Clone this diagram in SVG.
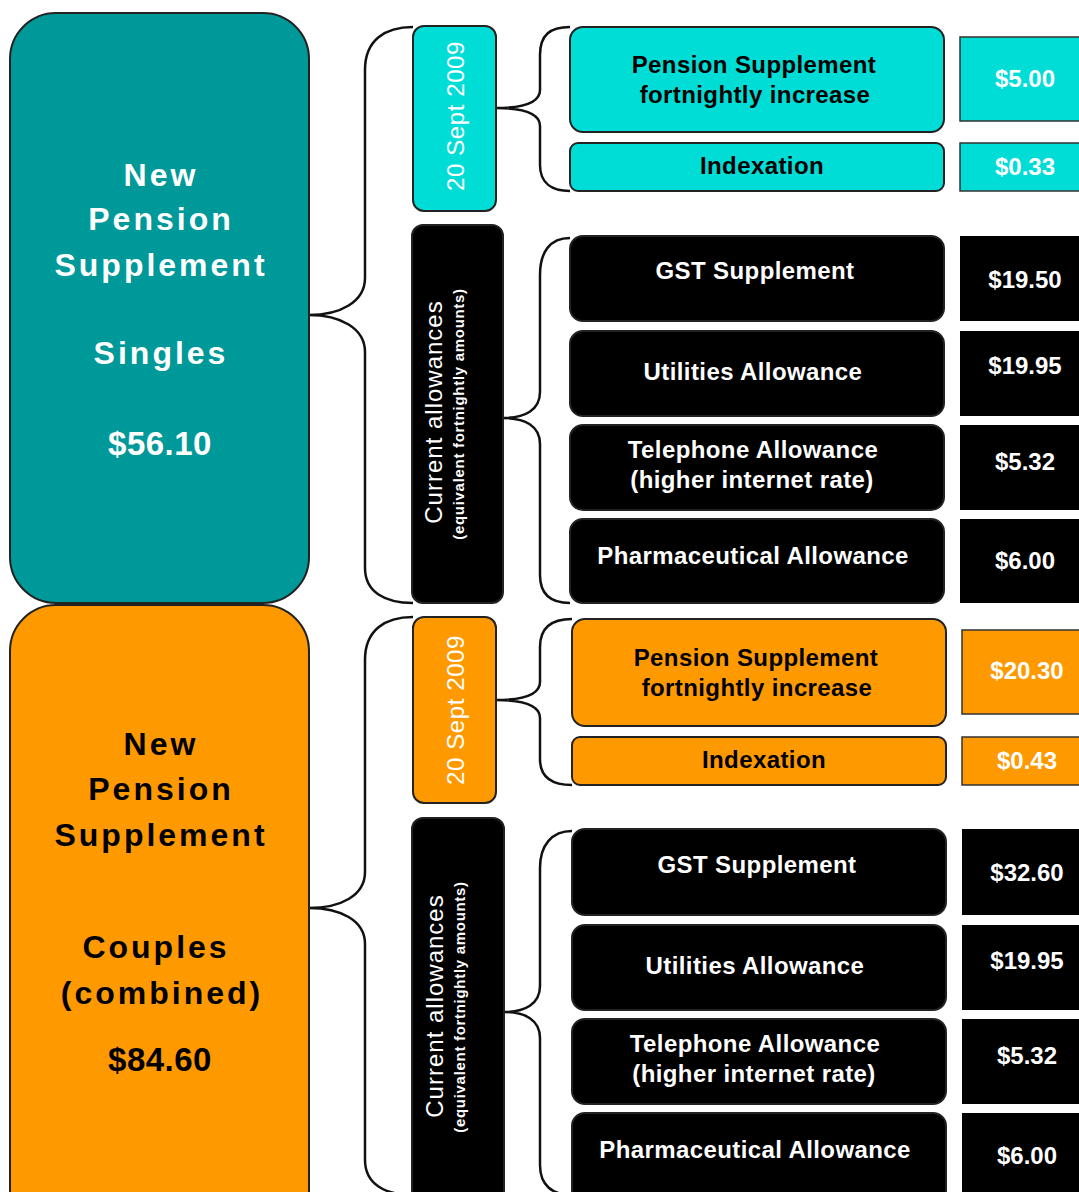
<svg xmlns="http://www.w3.org/2000/svg" width="1079" height="1192" viewBox="0 0 1079 1192">
<style>
text{font-family:"Liberation Sans",Arial,sans-serif;text-anchor:middle}
.big{font-size:32px;font-weight:bold;letter-spacing:3px}
.amt{font-size:33px;font-weight:bold;letter-spacing:0.5px}
.lbl{font-size:24px;font-weight:bold;letter-spacing:0.4px}
.val{font-size:24px;font-weight:bold}
.date{font-size:24px;fill:#fff;letter-spacing:0.6px}
.cur{font-size:24px;fill:#fff;letter-spacing:1px}
.sub{font-size:15px;font-weight:bold;fill:#fff;letter-spacing:0.7px}
.w{fill:#fff}.k{fill:#000}
.box{stroke:#222;stroke-width:2}
.vb{stroke:#333;stroke-width:1.5}
.brace{fill:none;stroke:#111;stroke-width:2.5}
</style>
<rect width="1079" height="1192" fill="#fff"/>
<g id="connectors">
<path class="brace" d="M413,27 C385,27 365,40 365,70 L365,278 C365,302 340,315 309,315 C340,315 365,328 365,352 L365,568 C365,592 385,603 413,603"/>
<path class="brace" d="M570,27 C550,27 540,35 540,55 L540,90 C540,102 525,108 496,108 C525,108 540,114 540,126 L540,165 C540,183 552,191 570,191"/>
<path class="brace" d="M570,238 C550,238 540,252 540,275 L540,392 C540,410 525,418 503,418 C525,418 540,426 540,444 L540,575 C540,595 552,603 570,603"/>
<path class="brace" d="M413,617 C385,617 365,630 365,660 L365,872 C365,896 340,908 309,908 C340,908 365,920 365,944 L365,1160 C365,1184 385,1195 413,1195"/>
<path class="brace" d="M572,619 C552,619 540,627 540,647 L540,682 C540,694 525,700 496,700 C525,700 540,706 540,718 L540,759 C540,777 552,785 572,785"/>
<path class="brace" d="M572,831 C552,831 540,845 540,868 L540,986 C540,1004 525,1012 504,1012 C525,1012 540,1020 540,1038 L540,1165 C540,1185 552,1195 572,1195"/>
</g>
<g id="singles">
<rect class="box" x="10" y="13" width="299" height="590" rx="46" fill="#009999"/>
<text class="big w" x="161" y="186">New</text>
<text class="big w" x="161" y="230">Pension</text>
<text class="big w" x="161" y="276">Supplement</text>
<text class="big w" x="161" y="364">Singles</text>
<text class="amt w" x="160" y="455">$56.10</text>
</g>
<g id="singles-date">
<rect class="box" x="413" y="26" width="83" height="185" rx="11" fill="#00DDD6"/>
<text class="date" transform="translate(464,116) rotate(-90)">20 Sept 2009</text>
</g>
<g id="singles-current">
<rect class="box" x="412" y="225" width="91" height="378" rx="11" fill="#000"/>
<text class="cur" transform="translate(442,412) rotate(-90)">Current allowances</text>
<text class="sub" transform="translate(464,414) rotate(-90)">(equivalent fortnightly amounts)</text>
</g>
<g id="s-ps">
<rect class="box" x="570" y="27" width="374" height="105" rx="13" fill="#00DDD6"/>
<text class="lbl k" x="754" y="73">Pension Supplement</text>
<text class="lbl k" x="755" y="103">fortnightly increase</text>
<rect class="vb" x="960" y="37" width="125" height="84" fill="#00DDD6"/>
<text class="val w" x="1025" y="87">$5.00</text>
</g>
<g id="s-idx">
<rect class="box" x="570" y="143" width="374" height="48" rx="8" fill="#00DDD6"/>
<text class="lbl k" x="762" y="174">Indexation</text>
<rect class="vb" x="960" y="143" width="125" height="48" fill="#00DDD6"/>
<text class="val w" x="1025" y="175">$0.33</text>
</g>
<g id="s-gst">
<rect class="box" x="570" y="236" width="374" height="85" rx="13" fill="#000"/>
<text class="lbl w" x="755" y="279">GST Supplement</text>
<rect x="960" y="236" width="125" height="85" fill="#000"/>
<text class="val w" x="1025" y="288">$19.50</text>
</g>
<g id="s-util">
<rect class="box" x="570" y="331" width="374" height="85" rx="13" fill="#000"/>
<text class="lbl w" x="753" y="380">Utilities Allowance</text>
<rect x="960" y="331" width="125" height="85" fill="#000"/>
<text class="val w" x="1025" y="374">$19.95</text>
</g>
<g id="s-tel">
<rect class="box" x="570" y="425" width="374" height="85" rx="13" fill="#000"/>
<text class="lbl w" x="753" y="458">Telephone Allowance</text>
<text class="lbl w" x="752" y="488">(higher internet rate)</text>
<rect x="960" y="425" width="125" height="85" fill="#000"/>
<text class="val w" x="1025" y="470">$5.32</text>
</g>
<g id="s-pharm">
<rect class="box" x="570" y="519" width="374" height="84" rx="13" fill="#000"/>
<text class="lbl w" x="753" y="564">Pharmaceutical Allowance</text>
<rect x="960" y="519" width="125" height="84" fill="#000"/>
<text class="val w" x="1025" y="569">$6.00</text>
</g>
<g id="couples">
<rect class="box" x="10" y="605" width="299" height="640" rx="46" fill="#FF9900"/>
<text class="big k" x="161" y="755">New</text>
<text class="big k" x="161" y="800">Pension</text>
<text class="big k" x="161" y="846">Supplement</text>
<text class="big k" x="156" y="958">Couples</text>
<text class="big k" x="162" y="1004">(combined)</text>
<text class="amt k" x="160" y="1071">$84.60</text>
</g>
<g id="couples-date">
<rect class="box" x="413" y="617" width="83" height="186" rx="11" fill="#FF9900"/>
<text class="date" transform="translate(464,710) rotate(-90)">20 Sept 2009</text>
</g>
<g id="couples-current">
<rect class="box" x="412" y="818" width="92" height="400" rx="11" fill="#000"/>
<text class="cur" transform="translate(443,1006) rotate(-90)">Current allowances</text>
<text class="sub" transform="translate(465,1007) rotate(-90)">(equivalent fortnightly amounts)</text>
</g>
<g id="c-ps">
<rect class="box" x="572" y="619" width="374" height="107" rx="13" fill="#FF9900"/>
<text class="lbl k" x="756" y="666">Pension Supplement</text>
<text class="lbl k" x="757" y="696">fortnightly increase</text>
<rect class="vb" x="962" y="630" width="125" height="84" fill="#FF9900"/>
<text class="val w" x="1027" y="679">$20.30</text>
</g>
<g id="c-idx">
<rect class="box" x="572" y="737" width="374" height="48" rx="8" fill="#FF9900"/>
<text class="lbl k" x="764" y="768">Indexation</text>
<rect class="vb" x="962" y="737" width="125" height="48" fill="#FF9900"/>
<text class="val w" x="1027" y="769">$0.43</text>
</g>
<g id="c-gst">
<rect class="box" x="572" y="829" width="374" height="86" rx="13" fill="#000"/>
<text class="lbl w" x="757" y="873">GST Supplement</text>
<rect x="962" y="829" width="125" height="86" fill="#000"/>
<text class="val w" x="1027" y="881">$32.60</text>
</g>
<g id="c-util">
<rect class="box" x="572" y="925" width="374" height="85" rx="13" fill="#000"/>
<text class="lbl w" x="755" y="974">Utilities Allowance</text>
<rect x="962" y="925" width="125" height="85" fill="#000"/>
<text class="val w" x="1027" y="969">$19.95</text>
</g>
<g id="c-tel">
<rect class="box" x="572" y="1019" width="374" height="85" rx="13" fill="#000"/>
<text class="lbl w" x="755" y="1052">Telephone Allowance</text>
<text class="lbl w" x="754" y="1082">(higher internet rate)</text>
<rect x="962" y="1019" width="125" height="85" fill="#000"/>
<text class="val w" x="1027" y="1064">$5.32</text>
</g>
<g id="c-pharm">
<rect class="box" x="572" y="1113" width="374" height="110" rx="13" fill="#000"/>
<text class="lbl w" x="755" y="1158">Pharmaceutical Allowance</text>
<rect x="962" y="1113" width="125" height="110" fill="#000"/>
<text class="val w" x="1027" y="1164">$6.00</text>
</g>
</svg>
